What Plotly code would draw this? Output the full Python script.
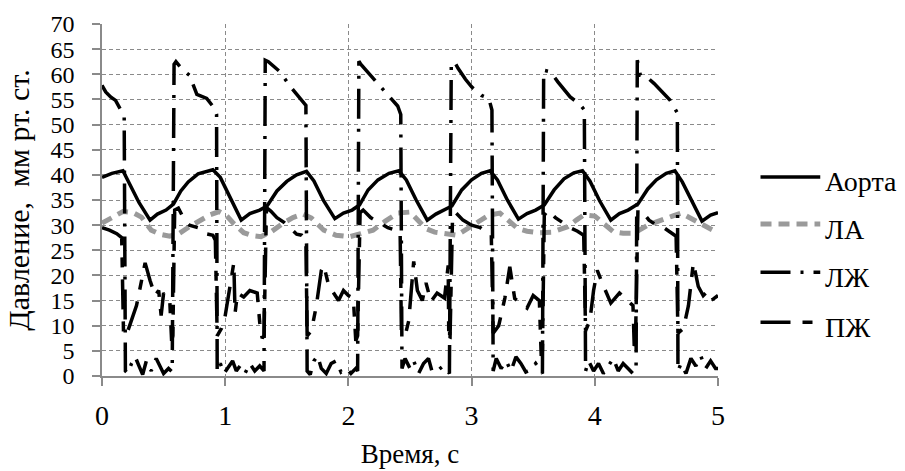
import plotly.graph_objects as go

# ---------------- data ----------------
aorta_t = [0.00, 0.08, 0.17, 0.22, 0.30, 0.39, 0.45, 0.52, 0.58, 0.64, 0.70, 0.78, 0.90, 0.96, 1.04, 1.13,
           1.20, 1.28, 1.34, 1.42, 1.50, 1.58, 1.66, 1.72, 1.80, 1.89, 1.96, 2.03, 2.09, 2.16, 2.24, 2.33,
           2.41, 2.47, 2.55, 2.64, 2.71, 2.78, 2.84, 2.92, 3.00, 3.08, 3.15, 3.21, 3.29, 3.38, 3.45, 3.52,
           3.59, 3.67, 3.75, 3.83, 3.90, 3.96, 4.04, 4.13, 4.20, 4.27, 4.35, 4.43, 4.50, 4.58, 4.65, 4.71,
           4.79, 4.87, 4.94, 5.00]
aorta_p = [39.5, 40.3, 40.8, 38.5, 34.5, 31.0, 32.2, 33.0, 34.2, 36.8, 38.6, 40.2, 41.0, 39.5, 35.5, 31.0,
           32.3, 33.0, 33.8, 36.8, 38.7, 40.0, 40.7, 38.8, 34.8, 31.3, 32.4, 33.0, 34.0, 37.0, 39.0, 40.3,
           40.8, 39.0, 35.0, 31.0, 32.2, 33.0, 33.8, 37.0, 39.0, 40.3, 40.8, 39.0, 35.0, 31.2, 32.3, 33.0,
           34.0, 37.0, 39.2, 40.4, 40.8, 38.8, 34.8, 31.0, 32.3, 33.0, 34.2, 37.2, 39.0, 40.3, 40.8, 38.6,
           34.5, 30.8, 32.0, 32.5]

la_t = [0.00, 0.08, 0.17, 0.25, 0.32, 0.40, 0.47, 0.55, 0.63, 0.71, 0.80, 0.88, 0.95, 1.01, 1.07, 1.15,
        1.22, 1.29, 1.38, 1.47, 1.55, 1.63, 1.70, 1.80, 1.90, 2.01, 2.10, 2.20, 2.30, 2.40, 2.50, 2.57,
        2.63, 2.70, 2.80, 2.88, 2.96, 3.03, 3.14, 3.23, 3.30, 3.37, 3.45, 3.55, 3.65, 3.78, 3.85, 3.91,
        4.00, 4.08, 4.15, 4.23, 4.32, 4.43, 4.56, 4.63, 4.70, 4.77, 4.84, 4.92, 4.98, 5.00]
la_p = [30.4, 31.6, 32.7, 32.5, 31.6, 29.0, 28.2, 27.8, 28.4, 29.7, 30.9, 32.1, 32.7, 31.9, 30.3, 28.5,
        27.9, 27.7, 28.8, 30.4, 31.5, 32.2, 31.4, 29.0, 28.0, 27.7, 28.3, 29.0, 30.8, 32.4, 32.6, 30.8,
        29.3, 28.6, 28.2, 28.0, 29.2, 30.4, 32.0, 32.4, 31.0, 29.4, 28.8, 28.5, 28.6, 29.7, 31.0, 32.0,
        31.8, 30.0, 28.7, 28.4, 28.4, 30.0, 31.0, 31.8, 32.4, 31.5, 30.4, 29.3, 28.7, 28.6]

lv_t = [0.00, 0.03, 0.07, 0.11, 0.15, 0.18, 0.19, 0.21, 0.24, 0.27, 0.30, 0.33, 0.36, 0.40, 0.44, 0.47,
        0.50, 0.54, 0.57,
        0.585, 0.60, 0.65, 0.71, 0.77, 0.85, 0.92, 0.93, 0.935, 0.96, 0.99, 1.02, 1.06, 1.09, 1.12, 1.16,
        1.20, 1.24, 1.28, 1.315,
        1.325, 1.35, 1.445, 1.53, 1.60, 1.655, 1.665, 1.69, 1.72, 1.75, 1.78, 1.82, 1.86, 1.90, 1.94,
        1.98, 2.02, 2.06, 2.075,
        2.085, 2.10, 2.20, 2.28, 2.34, 2.40, 2.425, 2.435, 2.46, 2.50, 2.53, 2.57, 2.61, 2.65, 2.68, 2.72,
        2.77, 2.82,
        2.835, 2.86, 2.89, 2.95, 3.00, 3.08, 3.14, 3.165, 3.175, 3.20, 3.24, 3.28, 3.32, 3.36, 3.40, 3.44,
        3.48, 3.52, 3.56, 3.575,
        3.585, 3.64, 3.70, 3.80, 3.88, 3.915, 3.925, 3.95, 3.99, 4.03, 4.07, 4.11, 4.15, 4.19, 4.23, 4.27,
        4.31, 4.335,
        4.345, 4.37, 4.42, 4.48, 4.55, 4.61, 4.67, 4.675, 4.70, 4.74, 4.78, 4.82, 4.86, 4.90, 4.94, 4.98,
        5.00]
lv_p = [57.8, 56.5, 55.5, 54.8, 53.0, 51.8, 1.0, 0.5, 2.5, 3.8, 2.0, 0.3, 3.0, 1.0, 3.5, 2.0,
        0.5, 1.5, 0.8,
        62.0, 62.5, 61.0, 59.8, 56.0, 55.2, 53.0, 52.0, 1.0, 2.5, 0.5, 1.5, 3.0, 1.0, 2.0, 0.5,
        2.5, 1.0, 2.0, 1.0,
        62.8, 62.5, 60.5, 57.5, 55.5, 53.8, 1.0, 0.3, 3.0, 4.0, 1.5, 0.5, 2.5, 3.0, 0.8,
        1.5, 0.5, 1.5, 1.0,
        62.6, 62.0, 59.2, 57.0, 55.2, 53.7, 52.0, 1.5, 3.5, 1.5, 3.0, 0.5, 2.5, 3.5, 0.8, 1.0,
        2.0, 0.5,
        62.0, 62.5, 61.2, 59.0, 57.5, 55.8, 55.2, 52.9, 1.0, 3.5, 1.5, 3.0, 1.0, 3.8, 2.5, 0.8,
        1.2, 2.5, 1.0, 0.5,
        60.8, 60.5, 58.5, 55.5, 54.0, 52.9, 1.0, 3.0, 1.0, 2.5, 0.5, 2.0, 3.5, 1.0, 2.5, 1.5,
        0.5, 1.0,
        62.8, 59.8, 59.5, 58.2, 56.5, 54.9, 52.3, 1.0, 2.5, 0.5, 3.5, 2.0, 4.0, 1.5, 3.0, 1.5,
        1.5]

rv_t = [0.00, 0.06, 0.12, 0.16, 0.175, 0.21, 0.28, 0.31, 0.35, 0.39, 0.43, 0.46, 0.48, 0.50, 0.55, 0.565,
        0.575, 0.59, 0.62, 0.67, 0.71, 0.78, 0.82, 0.90, 0.92,
        0.935, 0.97, 1.00, 1.04, 1.07, 1.08, 1.10, 1.15, 1.20, 1.26, 1.28, 1.30, 1.315,
        1.335, 1.37, 1.42, 1.48, 1.53, 1.58, 1.62, 1.655,
        1.665, 1.70, 1.74, 1.78, 1.80, 1.84, 1.88, 1.92, 1.96, 2.00, 2.04, 2.06, 2.075,
        2.095, 2.12, 2.18, 2.25, 2.32, 2.38, 2.42,
        2.43, 2.46, 2.49, 2.53, 2.56, 2.60, 2.63, 2.67, 2.72, 2.78, 2.81, 2.815, 2.825,
        2.845, 2.87, 2.93, 3.00, 3.07, 3.12, 3.16,
        3.175, 3.22, 3.27, 3.31, 3.35, 3.40, 3.45, 3.50, 3.55, 3.565, 3.575,
        3.59, 3.62, 3.68, 3.74, 3.80, 3.86, 3.91,
        3.925, 3.96, 3.99, 4.02, 4.06, 4.10, 4.13, 4.20, 4.27, 4.31, 4.32, 4.33,
        4.35, 4.38, 4.44, 4.50, 4.56, 4.62, 4.66,
        4.675, 4.72, 4.76, 4.80, 4.84, 4.88, 4.92, 4.96, 5.00]
rv_p = [29.5, 29.0, 28.3, 27.5, 8.0, 9.0, 14.0, 17.5, 22.5, 19.0, 16.0, 17.0, 12.0, 16.5, 15.0, 7.0,
        8.0, 33.0, 33.4, 31.0, 30.0, 29.5, 28.4, 28.0, 27.0,
        8.0, 9.5, 12.0, 17.8, 22.5, 12.5, 16.5, 15.7, 17.0, 16.5, 10.7, 7.5, 8.0,
        33.5, 32.8, 31.5, 30.5, 29.4, 28.2, 28.0, 27.0,
        8.0, 9.0, 14.0, 21.0, 22.0, 18.0, 16.5, 15.0, 17.0, 16.0, 15.5, 7.0, 8.0,
        32.5, 33.0, 31.5, 30.5, 29.5, 29.0, 28.5,
        9.0, 8.0, 11.0, 22.8, 17.0, 15.0, 18.5, 14.8, 16.5, 15.5, 22.0, 7.0, 7.5,
        31.4, 32.5, 31.0, 30.0, 29.5, 28.5, 28.0,
        8.5, 10.0, 15.5, 21.7, 15.4, 14.5, 13.5, 16.0, 15.0, 4.0, 5.0,
        32.0, 33.0, 31.5, 30.5, 29.5, 28.8, 28.0,
        9.0, 11.0, 17.0, 21.0, 18.5, 16.0, 14.5, 16.5, 15.0, 14.0, 6.0, 6.5,
        33.0, 32.8, 31.0, 30.0, 29.5, 28.5, 27.8,
        8.5, 9.5, 14.0, 22.5, 17.8, 16.0, 17.0, 15.3, 16.0]

series_names = ["Аорта", "ЛА", "ЛЖ", "ПЖ"]
x_ticks = [0, 1, 2, 3, 4, 5]
y_ticks = [0, 5, 10, 15, 20, 25, 30, 35, 40, 45, 50, 55, 60, 65, 70]

# ---------------- styles ----------------
FONT = "Liberation Serif, Times New Roman, Tinos, DejaVu Serif, serif"
styles = [
    dict(color="#000000", width=3.5, dash="solid"),
    dict(color="#9a9a9a", width=5, dash="11px,7px"),
    dict(color="#000000", width=3.5, dash="30px,10px,3px,10px"),
    dict(color="#000000", width=3.5, dash="30px,12px,10px,12px"),
]

fig = go.Figure()
for (t, p), name, st in zip([(aorta_t, aorta_p), (la_t, la_p), (lv_t, lv_p), (rv_t, rv_p)],
                            series_names, styles):
    fig.add_trace(go.Scatter(x=t, y=p, mode="lines", name=name, line=st, showlegend=False,
                             hoverinfo="skip"))

# custom legend (longer line samples, as in the original)
leg_y_line = [0.565, 0.432, 0.295, 0.153]
leg_y_text = [0.552, 0.416, 0.281, 0.139]
for name, st, yl, yt in zip(series_names, styles, leg_y_line, leg_y_text):
    fig.add_shape(type="line", xref="paper", yref="paper", x0=1.069, x1=1.166, y0=yl, y1=yl,
                  line=dict(color=st["color"], width=st["width"], dash=st["dash"]))
    fig.add_annotation(xref="paper", yref="paper", x=1.170, y=yt, text=name, showarrow=False,
                       xanchor="left", yanchor="middle", font=dict(family=FONT, size=28, color="#000"))

grid = dict(showgrid=True, gridcolor="#8a8a8a", gridwidth=1, griddash="4px,3px",
            showline=True, linecolor="#8a8a8a", linewidth=1.5, zeroline=False, automargin=False,
            ticks="outside", ticklen=8, tickcolor="#8a8a8a", tickwidth=1.5)

fig.update_layout(
    width=905, height=471,
    margin=dict(l=102, r=187, t=24, b=95),
    paper_bgcolor="white", plot_bgcolor="white",
    font=dict(family=FONT, color="#000"),
    xaxis=dict(range=[0, 5], tickvals=x_ticks, ticktext=[str(v) for v in x_ticks],
               tickfont=dict(family=FONT, size=28), ticklabelstandoff=6,
               title=dict(text="Время, с", font=dict(family=FONT, size=27), standoff=14), **grid),
    yaxis=dict(range=[0, 70], tickvals=y_ticks, ticktext=[str(v) for v in y_ticks],
               tickfont=dict(family=FONT, size=24), ticklabelstandoff=13,
               title=dict(text="Давление,  мм рт. ст.", font=dict(family=FONT, size=30), standoff=12),
               **grid),
    showlegend=False,
)

fig.write_html("out.html", config={"displayModeBar": False},
               post_script="document.body.style.margin='0';document.body.style.overflow='hidden';")
